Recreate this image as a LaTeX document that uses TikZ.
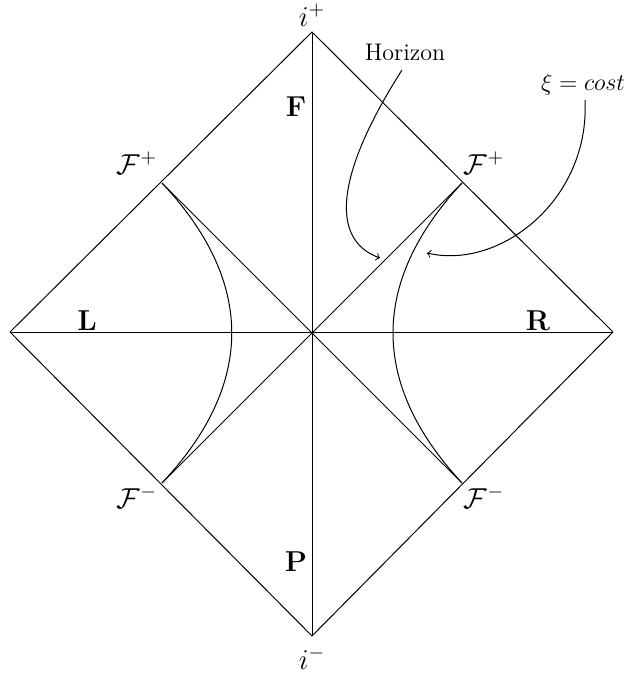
\documentclass[tikz,border=0pt]{standalone}
\begin{document}
\begin{tikzpicture}[x=0.5pt,y=-0.5pt,
  lbl/.style={font=\Large, inner sep=1pt},
  txt/.style={font=\large, inner sep=1pt},
  region/.style={font=\Large\bfseries, inner sep=1pt},
  edge/.style={line width=0.5pt},
  note/.style={->, line width=0.5pt}]
\useasboundingbox (0,0) rectangle (630,679);
% vertices
\coordinate (T) at (312,32);
\coordinate (B) at (312,636);
\coordinate (Lv) at (10,332);
\coordinate (Rv) at (613,332);
\coordinate (C) at (312,332);
\coordinate (UL) at (162,183);
\coordinate (UR) at (462,183);
\coordinate (DL) at (162,483);
\coordinate (DR) at (462,483);
% diamond
\draw[edge] (T) -- (Rv) -- (B) -- (Lv) -- cycle;
\draw[edge] (Lv) -- (Rv);
\draw[edge] (T) -- (B);
\draw[edge] (UL) -- (DR);
\draw[edge] (UR) -- (DL);
% curves
\draw[edge] (UL) .. controls (255,282) and (255,384) .. (DL);
\draw[edge] (UR) .. controls (370,282) and (370,384) .. (DR);
% labels
\node[lbl] (ip) at (312,15) {$i^+$};
\node[lbl] (im) at (312,658) {$i^-$};
\node[region] (F) at (296,107) {F};
\node[region] (P) at (296,562) {P};
\node[region] (L) at (87,321) {L};
\node[region] (R) at (538,321) {R};
\node[lbl] (FpL) at (137,163) {$\mathcal{F}^+$};
\node[lbl] (FpR) at (484,163) {$\mathcal{F}^+$};
\node[lbl] (FmL) at (137,497) {$\mathcal{F}^-$};
\node[lbl] (FmR) at (484,497) {$\mathcal{F}^-$};
\node[txt] (hor) at (405,52) {Horizon};
\node[txt] (xi) at (583,85) {$\xi=cost$};
\coordinate (hend) at (380,258);
\coordinate (xend) at (427,253);
\draw[note] (402,70) .. controls (335,175) and (330,240) .. (hend);
\draw[note] (585,100) .. controls (590,200) and (500,270) .. (xend);
\end{tikzpicture}
\end{document}
